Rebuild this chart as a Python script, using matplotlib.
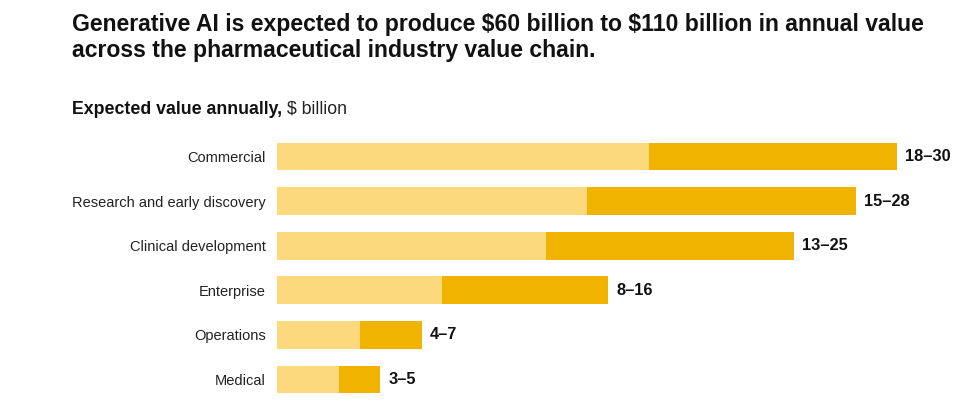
import matplotlib.pyplot as plt

plt.rcParams['font.family'] = ['Liberation Sans', 'DejaVu Sans']

# data
categories = ["Commercial", "Research and early discovery", "Clinical development",
              "Enterprise", "Operations", "Medical"]
low_values = [18, 15, 13, 8, 4, 3]
high_values = [30, 28, 25, 16, 7, 5]

light_col = "#fdd97e"
dark_col = "#f0b400"

fig = plt.figure(figsize=(9.8, 4.05), dpi=100)
W, H = 980, 405

# axes placed in pixel terms: bars start at x=277
left, right = 277, 960
top, bottom = 134.2, 401.8
ax = fig.add_axes([left / W, 1 - bottom / H, (right - left) / W, (bottom - top) / H])

px_per_unit = 20.67
ax.set_xlim(0, (right - left) / px_per_unit)
ax.set_ylim(len(categories) - 0.5, -0.5)

ypos = list(range(len(categories)))
ax.barh(ypos, low_values, height=0.62, color=light_col, linewidth=0)
ax.barh(ypos, [h - l for l, h in zip(low_values, high_values)], left=low_values,
        height=0.62, color=dark_col, linewidth=0)

for y, l, h in zip(ypos, low_values, high_values):
    ax.annotate(f"{l}\u2013{h}", xy=(h, y), xytext=(6, 0), textcoords="offset points",
                va="center", ha="left", fontsize=11.8, fontweight="bold", color="#111111")

ax.set_yticks(ypos)
ax.set_yticklabels(categories, fontsize=10.5, color="#222222")
ax.tick_params(axis="y", length=0, pad=8)
ax.set_xticks([])
for s in ax.spines.values():
    s.set_visible(False)

fig.text(72 / W, 1 - 24.5 / H, r"Generative AI is expected to produce \$60 billion to \$110 billion in annual value",
         fontsize=16.6, fontweight="bold", va="center", ha="left", color="#111111")
fig.text(72 / W, 1 - 50 / H, "across the pharmaceutical industry value chain.",
         fontsize=16.6, fontweight="bold", va="center", ha="left", color="#111111")

sub = fig.text(72 / W, 1 - 109 / H, "Expected value annually,", fontsize=12.8,
               fontweight="bold", va="center", ha="left", color="#111111")
ax.annotate(r" \$ billion", xy=(1, 0), xycoords=sub, va="bottom", ha="left",
            fontsize=12.8, color="#222222", annotation_clip=False)

fig.savefig("out.png", dpi=100)
